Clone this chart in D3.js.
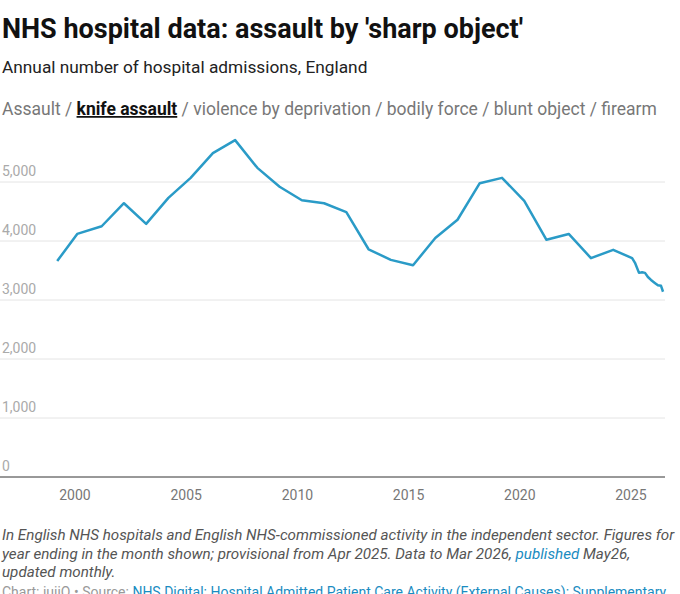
<!DOCTYPE html>
<html><head><meta charset="utf-8">
<script src="https://cdn.jsdelivr.net/npm/d3@7"></script>
<style>
body{margin:0;font-family:Roboto,sans-serif;background:#fff;}
</style></head>
<body><svg id="c" width="680" height="594"></svg>
<script>
// annual figures (year ending March), then monthly rolling figures
const years = [1999.2,2000.1,2001.2,2002.2,2003.2,2004.2,2005.2,2006.2,2007.2,2008.2,2009.2,2010.2,2011.2,2012.2,2013.2,2014.2,2015.2,2016.2,2017.2,2018.2,2019.2,2020.2,2021.2,2022.2,2023.2,2024.2,2025.05,2025.18,2025.36,2025.5,2025.63,2025.76,2025.9,2026.07,2026.21,2026.35,2026.44];
const admissions = [3660,4120,4250,4640,4290,4730,5070,5490,5710,5240,4920,4690,4640,4490,3860,3680,3590,4050,4360,4980,5070,4680,4020,4120,3710,3850,3710,3630,3460,3470,3460,3390,3340,3290,3250,3240,3140];
const yTicks = [0,1000,2000,3000,4000,5000];
const xTicks = [2000,2005,2010,2015,2020,2025];
const tabs = ["Assault","knife assault","violence by deprivation","bodily force","blunt object","firearm"];

const svg = d3.select("#c");
const x = d3.scaleLinear().domain([2000,2025]).range([75,631]);
const y = d3.scaleLinear().domain([0,5000]).range([477,182]);

svg.append("text").attr("x",2).attr("y",38).attr("font-size",27).attr("font-weight",700).attr("fill","#111")
  .text("NHS hospital data: assault by 'sharp object'");
svg.append("text").attr("x",2).attr("y",73).attr("font-size",17.3).attr("fill","#222")
  .text("Annual number of hospital admissions, England");

const nav = svg.append("text").attr("x",2).attr("y",115).attr("font-size",17.5).attr("fill","#777");
tabs.forEach((t,i)=>{
  if(i>0) nav.append("tspan").text(" / ");
  const s = nav.append("tspan").text(t);
  if(i===1) s.attr("font-weight",700).attr("fill","#111").attr("text-decoration","underline");
});

svg.append("g").selectAll("line").data(yTicks.slice(1)).join("line")
  .attr("x1",0).attr("x2",665).attr("y1",d=>y(d)).attr("y2",d=>y(d))
  .attr("stroke","#e4e4e4");
svg.append("line").attr("x1",0).attr("x2",665).attr("y1",y(0)).attr("y2",y(0)).attr("stroke","#333");
svg.append("g").selectAll("text").data(yTicks).join("text")
  .attr("x",2).attr("y",d=>y(d)-6).attr("font-size",14).attr("fill","#aaa")
  .text(d=>d3.format(",")(d));
svg.append("g").selectAll("text").data(xTicks).join("text")
  .attr("x",d=>x(d)).attr("y",y(0)+23).attr("text-anchor","middle").attr("font-size",14).attr("fill","#777")
  .text(d=>d);

svg.append("path").datum(years.map((d,i)=>[d,admissions[i]]))
  .attr("fill","none").attr("stroke","#2a9bc7").attr("stroke-width",2.5).attr("stroke-linejoin","round")
  .attr("d",d3.line().x(d=>x(d[0])).y(d=>y(d[1])));

const notes = [
  ["In English NHS hospitals and English NHS-commissioned activity in the independent sector. Figures for"],
  ["year ending in the month shown; provisional from Apr 2025. Data to Mar 2026, ",["published"]," May26,"],
  ["updated monthly."]
];
notes.forEach((parts,i)=>{
  const t = svg.append("text").attr("x",2).attr("y",540+i*18.5).attr("font-size",15.2).attr("font-style","italic").attr("fill","#555");
  parts.forEach(p=>{
    if(Array.isArray(p)) t.append("tspan").attr("fill","#1a8cc1").text(p[0]);
    else t.append("tspan").text(p);
  });
});
const f = svg.append("text").attr("x",2).attr("y",597).attr("font-size",14).attr("fill","#999");
f.append("tspan").text("Chart: iuijO • Source: ");
f.append("tspan").attr("fill","#1a8cc1").text("NHS Digital: Hospital Admitted Patient Care Activity (External Causes): Supplementary");
</script></body></html>
